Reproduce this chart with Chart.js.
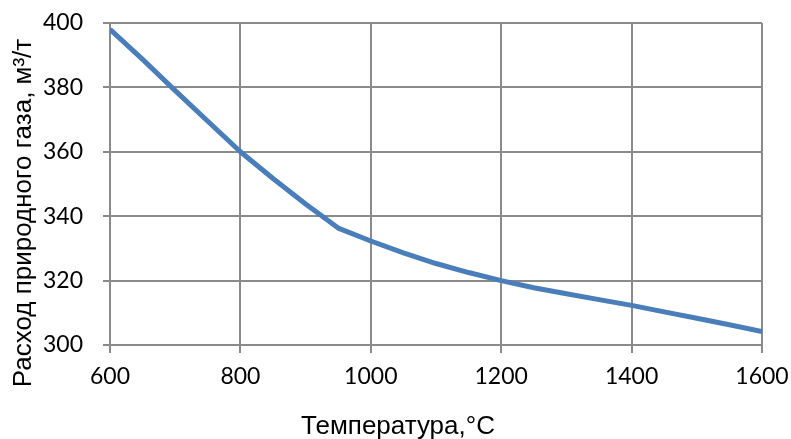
<!DOCTYPE html>
<html><head><meta charset="utf-8">
<script src="https://cdn.jsdelivr.net/npm/chart.js@4"></script>
<style>html,body{margin:0;padding:0;background:#fff}#w{width:791px;height:439px}</style>
</head><body><div id="w"><canvas id="c"></canvas></div>
<script>
const temperatures = [600,650,700,750,800,850,900,950,1000,1050,1100,1150,1200,1250,1300,1350,1400,1450,1500,1550,1600];
const gasConsumption = [398,388.7,379,369.5,360,351.7,343.8,336.3,332.3,328.6,325.3,322.5,320,317.8,315.9,314.1,312.3,310.3,308.3,306.3,304.2];
const xTicks = [600,800,1000,1200,1400,1600];
const yTicks = [300,320,340,360,380,400];
const xTitle = 'Температура,°C';
const yTitle = 'Расход природного газа, м³/т';

const gridColor = '#8a8a8a';
const titleFont = '26px "Liberation Sans", Arial, sans-serif';

const titlesPlugin = {
  id: 'titles',
  afterDraw(chart) {
    const { ctx, chartArea: a } = chart;
    ctx.save();
    ctx.fillStyle = '#000';
    ctx.font = titleFont;
    ctx.textAlign = 'center';
    ctx.textBaseline = 'alphabetic';
    // x title (Excel places it slightly left of the plot centre)
    ctx.fillText(xTitle, (a.left + a.right) / 2 - 38, a.bottom + 89);
    // y title, rotated
    ctx.translate(31, (a.top + a.bottom) / 2 + 29);
    ctx.rotate(-Math.PI / 2);
    ctx.fillText(yTitle, 0, 0);
    ctx.restore();
  }
};

new Chart(document.getElementById('c'), {
  type: 'line',
  data: { datasets: [{
    data: temperatures.map((t,i)=>({x:t,y:gasConsumption[i]})),
    borderColor: '#4a7ebb', borderWidth: 5, pointRadius: 0, tension: 0, fill: false,
    borderCapStyle: 'butt', borderJoinStyle: 'round'
  }]},
  plugins: [titlesPlugin],
  options: {
    responsive: true, maintainAspectRatio: false, animation: false,
    layout: { padding: { top: 23, right: 29, left: 0, bottom: 0 } },
    plugins: { legend: { display: false }, tooltip: { enabled: false } },
    scales: {
      x: {
        type: 'linear', min: 600, max: 1600,
        afterBuildTicks: s => { s.ticks = xTicks.map(v=>({value:v})); },
        afterFit: s => { s.height = 94; s.paddingLeft = 0; s.paddingRight = 0; },
        grid: { color: gridColor, lineWidth: 2, tickLength: 8, drawTicks: true },
        border: { color: gridColor, width: 2 },
        ticks: { color: '#000', font: { family: 'Lato', size: 23 }, padding: 10, maxRotation: 0,
                 callback: v => String(v) }
      },
      y: {
        min: 300, max: 400,
        afterBuildTicks: s => { s.ticks = yTicks.map(v=>({value:v})); },
        afterFit: s => { s.width = 110; s.paddingTop = 0; s.paddingBottom = 0; },
        grid: { color: gridColor, lineWidth: 2, tickLength: 7 },
        border: { color: gridColor, width: 2 },
        ticks: { color: '#000', font: { family: 'Lato', size: 23 }, padding: 20,
                 callback: v => String(v) }
      }
    }
  }
});
</script></body></html>
